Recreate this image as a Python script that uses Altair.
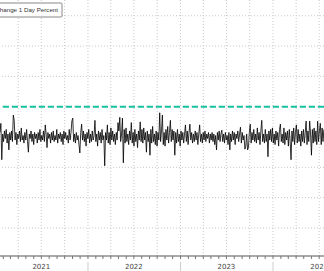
import altair as alt
import pandas as pd

start_date = "2021-01-19"
change_pct = [
    0.3, 0.9, -1.5, 0.2, -0.3, 0.4, -0.1, 0.5, -0.4, 0.2,
    -0.85, 0.3, -0.2, 0.4, -0.3, 1.45, 1.1, -0.2, 0.3, -0.5,
    0.2, -0.1, 0.4, -0.3, 0.6, -0.2, 0.1, -0.4, 0.3, -0.2,
    0.5, -0.3, -1.0, 0.2, -0.1, 0.4, -0.3, 0.2, -0.5, 0.3,
    -0.1, 0.2, -0.4, 0.3, -0.2, 0.5, -0.3, 0.1, -0.2, 0.4,
    -0.3, 0.8, 0.2, -0.7, 0.3, -0.1, 0.2, -0.4, 0.3, -0.2,
    0.4, -0.3, 0.1, -0.2, 0.5, -0.4, 0.2, -0.1, 0.3, -0.3,
    0.2, -0.5, 0.4, -0.1, 0.3, -0.2, 0.1, -0.4, 0.5, -0.2,
    0.3, 1.05, 1.25, -0.3, 0.2, -0.4, 0.3, -0.2, 0.1, -0.5,
    -1.05, 0.3, 0.85, -0.2, 0.4, -0.3, 0.2, -0.6, 0.3, -0.1,
    0.5, -0.4, 0.2, -0.3, 0.4, -0.2, 0.1, 1.1, -0.3, 0.2,
    -0.6, 0.4, -0.2, 0.3, -0.4, 0.5, -0.2, 0.1, -1.9, 0.3,
    -0.2, 0.8, -0.4, 0.3, -0.5, 0.6, -0.2, 0.4, -0.3, 0.2,
    -0.5, 0.3, -0.2, 0.95, 0.4, 1.3, -0.3, 0.2, 1.25, -1.7,
    0.5, -0.4, 0.6, -0.3, 0.2, -0.5, 0.4, -0.2, 0.95, -0.4,
    0.3, -0.6, 0.5, -0.3, 0.2, -0.7, 0.4, -0.2, 1.0, -0.3,
    0.5, -0.4, 0.6, -0.2, 0.3, -1.0, 0.4, -0.3, 0.2, -1.2,
    0.5, -0.4, 0.7, -0.3, 0.2, -0.5, 0.4, -0.6, 0.3, -0.2,
    1.6, -0.3, 0.4, 1.45, -0.5, 0.3, -0.6, 0.5, -0.2, 0.7,
    -0.4, 0.3, 1.1, -0.3, 0.5, -0.2, 0.4, -1.2, 0.3, -0.4,
    0.5, -0.3, 0.2, -0.6, 0.4, -0.2, 0.3, -0.4, 0.2, 0.8,
    -0.3, 0.4, -0.5, 0.3, 0.85, -0.2, 0.3, -0.4, 0.2, -0.3,
    0.4, -0.2, 0.3, -0.5, 0.2, 0.8, -0.3, 0.2, -0.4, 0.3,
    -0.2, 0.4, -0.3, 0.2, -0.1, 0.3, -0.4, 0.2, -0.2, 0.3,
    -0.3, 0.2, -0.5, 0.1, -0.85, 0.3, -0.2, 0.4, -0.3, 0.2,
    0.45, -0.3, 0.2, -0.4, 0.3, -0.2, 0.1, -0.5, 0.3, -0.85,
    0.2, -0.3, 0.4, -0.2, 0.3, -0.5, 0.2, -0.1, 0.4, -0.3,
    0.2, 0.65, -0.4, 0.3, -0.2, 0.1, -0.8, -0.6, 0.2, -0.85,
    -0.7, 0.3, 0.85, -0.4, 0.3, -0.2, 0.5, -0.3, 0.2, -0.4,
    0.6, -0.2, 0.3, -0.5, 0.4, 1.1, -0.3, 0.2, -0.4, 0.5,
    -0.3, 0.2, -1.3, 0.4, -0.2, 0.5, -0.3, 0.6, -0.4, 0.2,
    -0.5, 0.4, -0.2, 0.3, -0.6, 0.5, 0.85, -0.3, 0.2, -0.4,
    0.6, -0.5, 0.3, -0.2, 0.4, -0.6, 0.5, -0.3, -1.5, 0.4,
    -0.3, 0.6, -0.5, 0.3, 0.8, -0.4, 0.5, -0.3, 0.2, -0.6,
    0.4, -0.3, 0.5, -0.4, 0.3, 1.05, -0.5, 0.4, -0.3, 1.05,
    0.2, -1.2, 0.5, -0.4, 0.6, -0.3, 0.4, -0.5, 1.05, -0.3,
    0.4, 0.9, -0.5, 0.6, -0.3, 0.5,
]
threshold = 2
y_grid = [-6, -4, -2, 0, 2, 4, 6, 8]
quarter_grid = ["2021-04-01", "2021-07-01", "2021-10-01", "2022-01-01",
                "2022-04-01", "2022-07-01", "2022-10-01", "2023-01-01",
                "2023-04-01", "2023-07-01", "2023-10-01", "2024-01-01",
                "2024-04-01", "2024-07-01"]
year_breaks = ["2022-01-01", "2023-01-01", "2024-01-01"]
year_labels = ["2021", "2022", "2023", "2024"]
year_mid = ["2021-07-01", "2022-07-01", "2023-07-01", "2024-07-01"]
legend_label = "Change 1 Day Percent"

x_domain = ["2021-01-19", "2024-07-20"]
y_domain = [-7.85, 9.04]

dates = pd.date_range(start_date, periods=len(change_pct), freq="84h")
df = pd.DataFrame({"date": dates, "value": change_pct})
months = pd.date_range("2021-02-01", "2024-07-01", freq="MS")

xs = alt.Scale(domain=x_domain, nice=False)
ys = alt.Scale(domain=y_domain, nice=False, zero=False)
X = lambda f: alt.X(f, type="temporal", scale=xs, axis=None)
Y = lambda f: alt.Y(f, type="quantitative", scale=ys, axis=None)

grid_color = "#c8c8c8"

hgrid = alt.Chart(pd.DataFrame({"v": y_grid})).mark_rule(
    color=grid_color, strokeWidth=1, strokeDash=[1, 2]
).encode(y=Y("v:Q"))

vgrid = alt.Chart(pd.DataFrame({"d": pd.to_datetime(quarter_grid)})).mark_rule(
    color=grid_color, strokeWidth=1, strokeDash=[1, 2]
).encode(x=X("d:T"))

thr = alt.Chart(pd.DataFrame({"v": [threshold]})).mark_rule(
    color="#17c2a0", strokeWidth=2, strokeDash=[6, 3]
).encode(y=Y("v:Q"))

line = alt.Chart(df).mark_line(color="#000000", strokeWidth=0.8).encode(
    x=X("date:T"), y=Y("value:Q")
)

axis_line = alt.Chart(pd.DataFrame({"a": [0]})).mark_rule(
    color="#555555", strokeWidth=1
).encode(x=alt.value(0), x2=alt.value(324), y=alt.value(256))

month_ticks = alt.Chart(pd.DataFrame({"d": months})).mark_rule(
    color="#777777", strokeWidth=1
).encode(x=X("d:T"), y=alt.value(256), y2=alt.value(259))

year_ticks = alt.Chart(pd.DataFrame({"d": pd.to_datetime(year_breaks)})).mark_rule(
    color="#cccccc", strokeWidth=1
).encode(x=X("d:T"), y=alt.value(262), y2=alt.value(271))

year_text = alt.Chart(pd.DataFrame({"d": pd.to_datetime(year_mid), "t": year_labels})).mark_text(
    font="DejaVu Sans", fontSize=7, color="#444444", align="center", baseline="middle"
).encode(x=X("d:T"), y=alt.value(266.5), text="t:N")

legend_box = alt.Chart(pd.DataFrame({"a": [0]})).mark_rect(
    fill="white", stroke="#888888", strokeWidth=1, cornerRadius=1
).encode(x=alt.value(-6), x2=alt.value(62), y=alt.value(3), y2=alt.value(17))

legend_text = alt.Chart(pd.DataFrame({"t": [legend_label]})).mark_text(
    font="Liberation Sans", fontSize=6.2, color="#333333", align="right", baseline="middle"
).encode(x=alt.value(58), y=alt.value(10), text="t:N")

chart = alt.layer(
    hgrid, vgrid, thr, line, axis_line, month_ticks, year_ticks, year_text,
    legend_box, legend_text
).properties(
    width=324, height=256,
    autosize=alt.AutoSizeParams(type="none"),
    padding={"left": 0, "top": 0, "right": 0, "bottom": 15},
    background="white",
).configure_view(stroke=None)

chart.save("out.html", embed_options={"renderer": "svg", "actions": False})
